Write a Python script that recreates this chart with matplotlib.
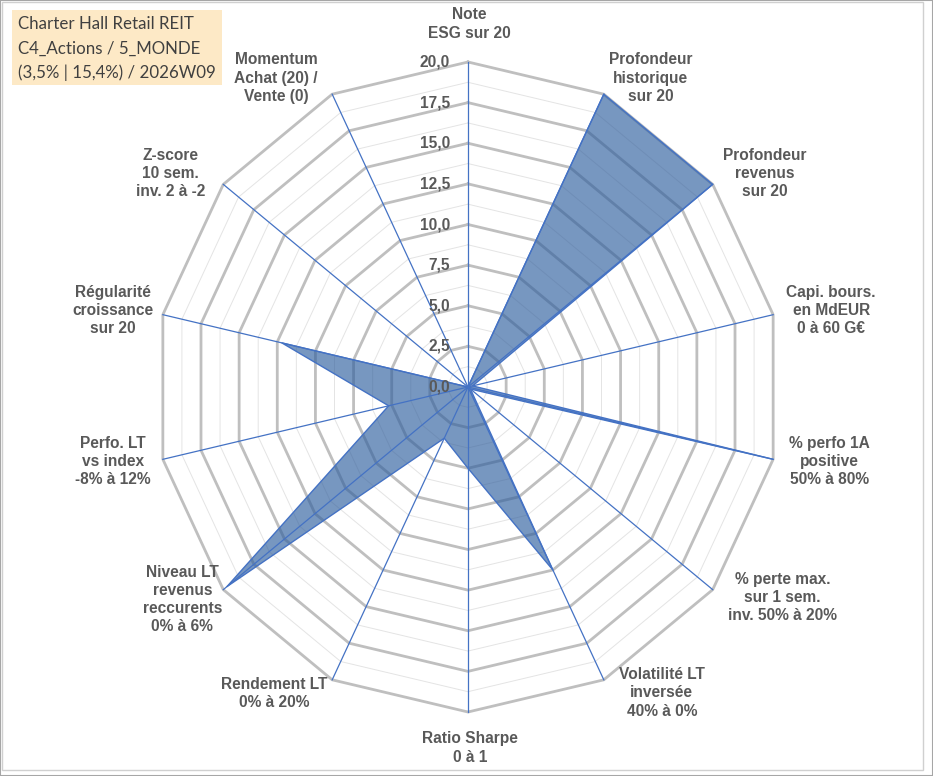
import numpy as np
import matplotlib
matplotlib.use("Agg")
import matplotlib.pyplot as plt
from matplotlib.patches import Rectangle

# ---------------- data ----------------
categories = [
    "Note\nESG sur 20",
    "Profondeur\nhistorique\nsur 20",
    "Profondeur\nrevenus\nsur 20",
    "Capi. bours.\nen MdEUR\n0 à 60 G€",
    "% perfo 1A\npositive\n50% à 80%",
    "% perte max.\nsur 1 sem.\ninv. 50% à 20%",
    "Volatilité LT\ninversée\n40% à 0%",
    "Ratio Sharpe\n0 à 1",
    "Rendement LT\n0% à 20%",
    "Niveau LT\nrevenus\nreccurents\n0% à 6%",
    "Perfo. LT\nvs index\n-8% à 12%",
    "Régularité\ncroissance\nsur 20",
    "Z-score\n10 sem.\ninv. 2 à -2",
    "Momentum\nAchat (20) /\nVente (0)",
]
values = [0.0, 20.0, 20.0, 0.3, 20.0, 0.2, 12.5, 5.0, 3.5, 19.7, 5.2, 12.2, 0.0, 0.0]
tick_values = [0.0, 2.5, 5.0, 7.5, 10.0, 12.5, 15.0, 17.5, 20.0]
tick_labels = ["0,0", "2,5", "5,0", "7,5", "10,0", "12,5", "15,0", "17,5", "20,0"]
minor_values = [1.25, 3.75, 6.25, 8.75, 11.25, 13.75, 16.25, 18.75]
title_lines = ["Charter Hall Retail REIT", "C4_Actions / 5_MONDE", "(3,5% | 15,4%) / 2026W09"]
r_max = 20.0

# ---------------- layout / style ----------------
W, H = 933, 776
cx, cy = 468, 387          # centre in pixels (from top-left)
rx, ry = 313, 325          # outer radius in pixels (horizontal / vertical)
label_offsets = [(1, -38), (47, -16), (52, -11), (58, -4), (56, 2), (70, 8), (58, 13),
                 (2, 36), (-58, 14), (-41, 10), (-50, 2), (-50, -4), (-53, -11), (-56, -16)]
TXT = "#595959"
GRID = "#BFBFBF"
MINOR = "#E4E4E4"
BLUE = "#4472C4"

fig = plt.figure(figsize=(W / 100, H / 100), dpi=100)
fig.patch.set_facecolor("white")
ax = fig.add_axes([0, 0, 1, 1])
kx, ky = rx / r_max, ry / r_max
ax.set_xlim(-cx / kx, (W - cx) / kx)
ax.set_ylim(-(H - cy) / ky, cy / ky)
ax.set_aspect("auto")
ax.axis("off")

n = len(categories)
theta = np.arange(n) * 2 * np.pi / n
sx, sy = np.sin(theta), np.cos(theta)
sxc, syc = np.append(sx, sx[0]), np.append(sy, sy[0])

# minor rings
for v in minor_values:
    ax.plot(v * sxc, v * syc, color=MINOR, lw=0.7, zorder=1)
# major rings
for v in tick_values[1:]:
    ax.plot(v * sxc, v * syc, color=GRID, lw=2.0, zorder=2, solid_joinstyle="miter")

# series
vals = np.array(values)
px, py = vals * sx, vals * sy
ax.fill(np.append(px, px[0]), np.append(py, py[0]), facecolor="#2F5F9E", alpha=0.65,
        edgecolor="none", zorder=3)
ax.plot(np.append(px, px[0]), np.append(py, py[0]), color=BLUE, lw=1.0, zorder=4)

# spokes
for i in range(n):
    ax.plot([0, r_max * sx[i]], [0, r_max * sy[i]], color=BLUE, lw=0.9, zorder=5)

# tick labels along the top axis
for v, t in zip(tick_values, tick_labels):
    ax.annotate(t, xy=(0, v), xytext=(-18, 0), textcoords="offset pixels",
                ha="right", va="center", fontsize=11.2, fontweight="bold",
                color=TXT, family="Liberation Sans", zorder=6)

# category labels
for i, lab in enumerate(categories):
    dx, dy = label_offsets[i]
    ax.annotate(lab, xy=(r_max * sx[i], r_max * sy[i]), xytext=(dx, -dy),
                textcoords="offset pixels", ha="center", va="center",
                fontsize=11.2, fontweight="bold", color=TXT, family="Liberation Sans",
                linespacing=1.27, zorder=6)

# frame + title box
def fr(x, y):
    return x / W, 1 - y / H

fig.patches.append(Rectangle(fr(2, 770), 921 / W, 768 / H, transform=fig.transFigure,
                             fill=False, edgecolor="#D0D0D0", lw=1.0))
fig.patches.append(Rectangle(fr(0, 776), 1, 1, transform=fig.transFigure,
                             fill=False, edgecolor="#A6A6A6", lw=1.5))
fig.patches.append(Rectangle(fr(12, 85), 210 / W, 75 / H, transform=fig.transFigure,
                             facecolor="#FDE9C6", edgecolor="none"))
for k, line in enumerate(title_lines):
    x0, y0 = fr(18, 24 + 24.5 * k)
    fig.text(x0, y0, line, ha="left", va="center", fontsize=12.2, color="#404040",
             family="Lato")

fig.savefig("out.png", dpi=100)
